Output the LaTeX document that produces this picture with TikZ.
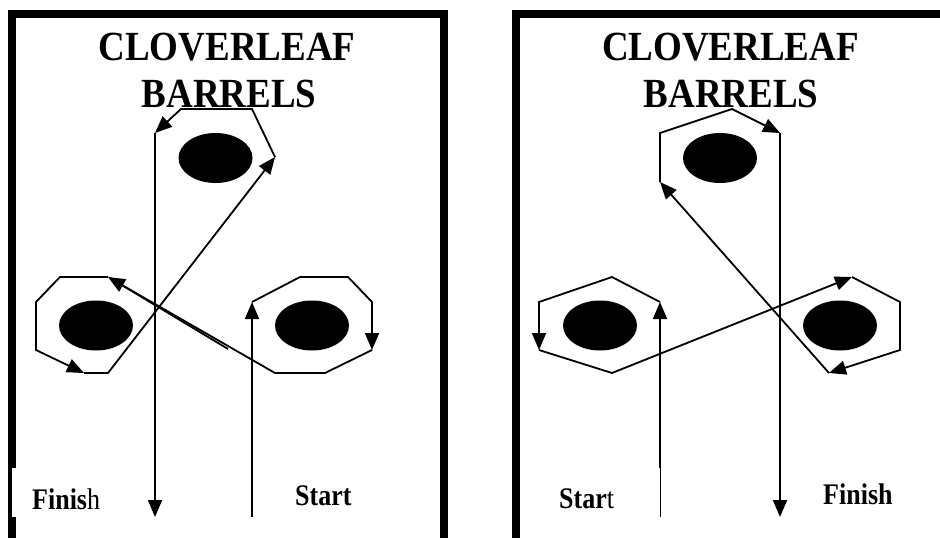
\documentclass[tikz,border=0pt]{standalone}
\usepackage{graphicx}
\usepackage{fontspec}
\setmainfont{Liberation Serif}
\usetikzlibrary{arrows.meta,shapes.geometric}

\newcommand{\tall}[2]{\scalebox{1}[#1]{#2}}

\begin{document}
\begin{tikzpicture}[x=1pt,y=-1pt,
  frame/.style={line width=7.5pt},
  route/.style={line width=1.8pt},
  arr/.style={route,-{Triangle[length=17pt,width=14pt]}},
  barrel/.style={ellipse,fill=black,minimum width=74pt,minimum height=50pt,inner sep=0pt},
  title/.style={font=\bfseries\fontsize{37}{44}\selectfont,inner sep=0pt,anchor=base},
  lbl/.style={font=\fontsize{26}{30}\selectfont,inner sep=0pt,anchor=base west},
  lblbox/.style={lbl,fill=white,align=left,inner xsep=20pt,inner ysep=0pt}]
\clip (0,0) rectangle (940,538);

% left pattern
\draw[frame] (12,560) -- (12,13.75) -- (444,13.75) -- (444,560);
\node[title] (titleL1) at (227,60) {\tall{1.12}{CLOVERLEAF}};
\node[title] (titleL2) at (229,107) {\tall{1.12}{BARRELS}};

\node[barrel] (topL) at (215.5,158) {};
\node[barrel] (leftL) at (96,325.5) {};
\node[barrel] (rightL) at (312,325.5) {};

\draw[arr] (252,517) -- (252,302);
\draw[arr] (252,302) -- (300,277) -- (348,277) -- (372,302) -- (372,350);
\draw[arr] (372,350) -- (325,373) -- (275,373) -- (108,277);
\draw[route] (110,278) -- (228,349);
\draw[arr] (108,277) -- (60,277) -- (36,302) -- (36,350) -- (84,373);
\draw[arr] (84,373) -- (108,373) -- (275,157);
\draw[arr] (275,157) -- (252,109) -- (181,109) -- (155,133);

\node[lblbox,text width=88pt,text height=41pt,text depth=8pt] (finishL) at (12,509) {\tall{1.15}{\textbf{Finis}h}};
\draw[arr] (155,133) -- (155,517);
\node[lbl] (startL) at (295,505) {\tall{1.15}{\textbf{Start}}};

% right pattern
\draw[frame] (516,560) -- (516,13.75) -- (960,13.75);
\node[title] (titleR1) at (730.5,60) {\tall{1.12}{CLOVERLEAF}};
\node[title] (titleR2) at (731,107) {\tall{1.12}{BARRELS}};

\node[barrel] (topR) at (720,158) {};
\node[barrel] (leftR) at (600,325.5) {};
\node[barrel] (rightR) at (840,325.5) {};

\draw[arr] (660,517) -- (660,302);
\draw[arr] (660,302) -- (612,277) -- (539,302) -- (539,350);
\draw[arr] (539,350) -- (612,373) -- (852,277);
\draw[arr] (852,277) -- (900,302) -- (900,350) -- (829,373);
\draw[arr] (829,373) -- (660,182);
\draw[arr] (660,182) -- (660,133) -- (732,109) -- (780,133);
\draw[arr] (780,133) -- (780,517);

\node[lblbox,text width=81pt,text height=40pt,text depth=10pt] (startR) at (539,508) {\tall{1.15}{\textbf{Star}t}};
\node[lbl] (finishR) at (823,504) {\tall{1.15}{\textbf{Finish}}};
\end{tikzpicture}
\end{document}
